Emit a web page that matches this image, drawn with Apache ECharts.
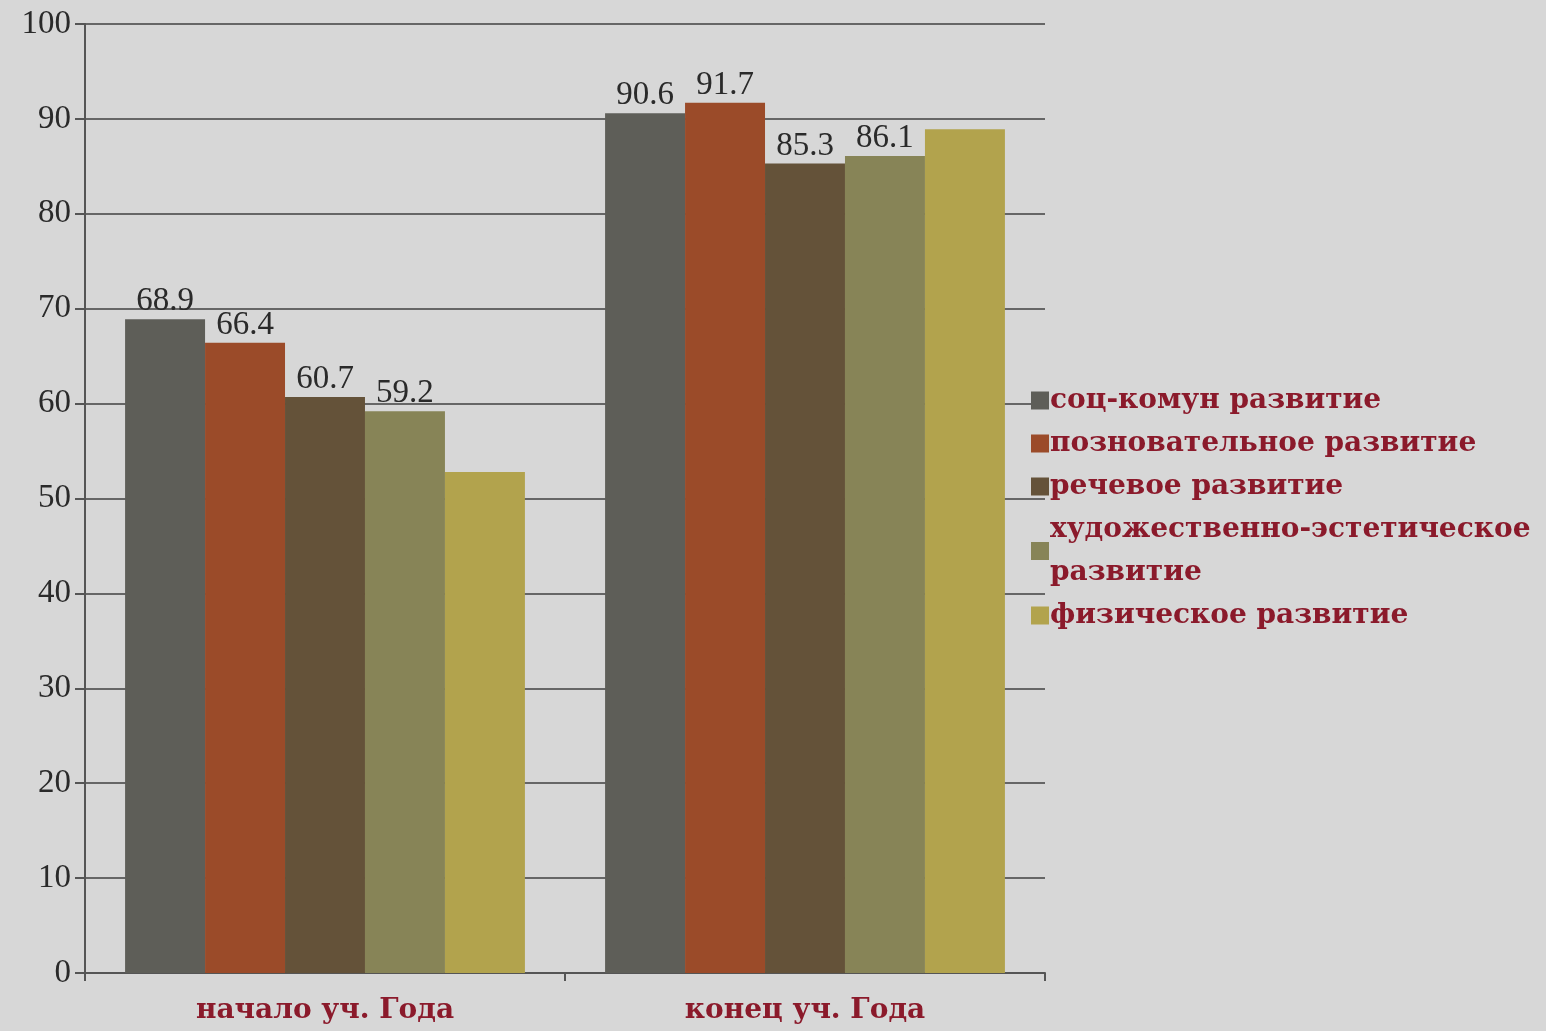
<!DOCTYPE html>
<html>
<head>
<meta charset="utf-8">
<script src="https://cdn.jsdelivr.net/npm/echarts@6/dist/echarts.min.js"></script>
<style>
html,body{margin:0;padding:0;background:#d7d7d7;}
#c{width:1546px;height:1031px;}
</style>
</head>
<body>
<div id="c"></div>
<script>
const categories = ['начало уч. Года', 'конец уч. Года'];
const seriesNames = ['соц-комун развитие', 'позновательное развитие', 'речевое развитие', 'художественно-эстетическое развитие', 'физическое развитие'];
const socKom = [68.9, 90.6];
const poznav = [66.4, 91.7];
const rech = [60.7, 85.3];
const hudEst = [59.2, 86.1];
const fiz = [52.8, 88.9];
const showLabels = [true, true, true, true, false];
const colors = ['#5e5e58', '#9b4b29', '#645239', '#878457', '#b2a34d'];
const yTicks = {min: 0, max: 100, interval: 10};

const allData = [socKom, poznav, rech, hudEst, fiz];
const series = seriesNames.map((n, i) => ({
  name: n,
  type: 'bar',
  data: allData[i],
  barGap: '0%',
  barCategoryGap: '16.7%',
  itemStyle: {color: colors[i]},
  label: {
    show: showLabels[i],
    position: 'top',
    distance: 1,
    fontFamily: 'Liberation Serif',
    fontSize: 33,
    color: '#2a2a2a'
  }
}));

const chart = echarts.init(document.getElementById('c'));
chart.setOption({
  backgroundColor: '#d7d7d7',
  animation: false,
  grid: {left: 85, right: 501, top: 24, bottom: 58, containLabel: false},
  legend: {
    orient: 'vertical',
    left: 1026,
    top: 374,
    itemWidth: 18,
    itemHeight: 18,
    itemGap: 0,
    icon: 'rect',
    formatter: function (name) {
      return name === 'художественно-эстетическое развитие' ? 'художественно-эстетическое\nразвитие' : name;
    },
    textStyle: {
      fontFamily: 'DejaVu Serif',
      fontWeight: 'bold',
      fontSize: 28,
      lineHeight: 43,
      color: '#8b1a2b',
      padding: [0, 0, 0, -4]
    }
  },
  xAxis: {
    type: 'category',
    data: categories,
    axisLine: {lineStyle: {color: '#555', width: 2}},
    axisTick: {show: true, length: 8, alignWithLabel: false, lineStyle: {color: '#555', width: 2}},
    axisLabel: {
      fontFamily: 'DejaVu Serif',
      fontWeight: 'bold',
      fontSize: 28,
      color: '#8b1a2b',
      margin: 24
    }
  },
  yAxis: {
    type: 'value',
    min: yTicks.min,
    max: yTicks.max,
    interval: yTicks.interval,
    axisLine: {show: true, lineStyle: {color: '#555', width: 2}},
    axisTick: {show: true, length: 10, lineStyle: {color: '#555', width: 2}},
    splitLine: {lineStyle: {color: '#666', width: 2}},
    axisLabel: {
      fontFamily: 'Liberation Serif',
      fontSize: 33,
      color: '#2a2a2a',
      margin: 14
    }
  },
  series: series
});
</script>
</body>
</html>
